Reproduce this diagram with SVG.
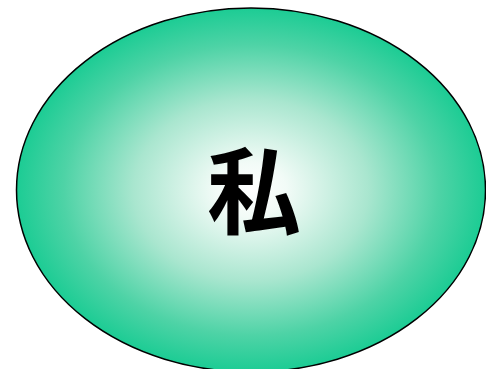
<svg xmlns="http://www.w3.org/2000/svg" width="486" height="369" viewBox="0 0 486 369">
<defs>
<radialGradient id="g" cx="0.5" cy="0.5" r="0.5">
<stop offset="0" stop-color="#ffffff"/>
<stop offset="0.15" stop-color="#f2fbf7"/>
<stop offset="0.5" stop-color="#a9e6cf"/>
<stop offset="0.8" stop-color="#4ed3a6"/>
<stop offset="1" stop-color="#1ccc94"/>
</radialGradient>
</defs>
<rect width="486" height="369" fill="#ffffff"/>
<g id="node">
<ellipse cx="251" cy="190" rx="234.5" ry="182" fill="url(#g)" stroke="#000" stroke-width="1.5"/>
<text x="254" y="227" text-anchor="middle" font-family="'Noto Sans CJK JP', sans-serif" font-weight="bold" font-size="94" fill="#000">私</text>
</g>
</svg>
